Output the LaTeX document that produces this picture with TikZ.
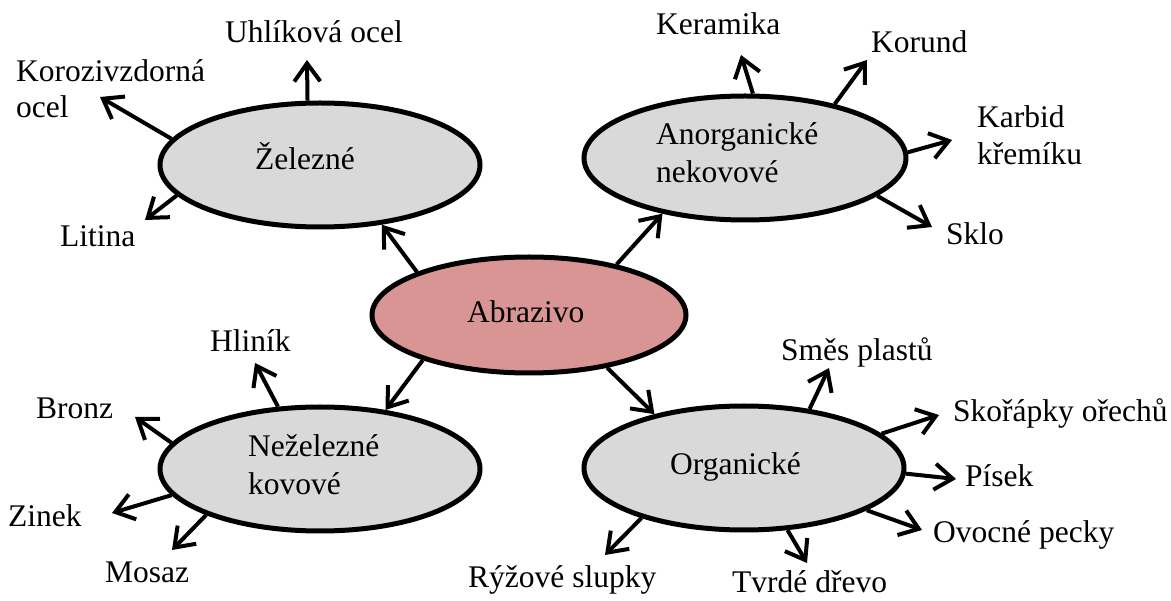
\documentclass[tikz,border=0pt]{standalone}
\usepackage{fontspec}
\setmainfont{Liberation Serif}
\usetikzlibrary{shapes.geometric,arrows.meta}
\definecolor{greyfill}{RGB}{217,217,217}
\definecolor{rosefill}{RGB}{217,149,148}
\begin{document}
\begin{tikzpicture}[x=1pt,y=-1pt,
  every node/.style={font=\fontsize{31.5}{38}\selectfont},
  oval/.style={ellipse,draw,line width=5pt,fill=greyfill,inner sep=0pt,minimum width=320pt,minimum height=124pt},
  lbl/.style={anchor=base west,inner sep=0pt,align=left},
  arr/.style={line width=4pt,-{Straight Barb[length=18pt,width=26pt,line width=4pt]}}
]
\useasboundingbox (0,0) rectangle (1171,601);
% ellipses
\node[oval] (zel) at (320,165) {};
\node[oval,minimum width=322pt] (ano) at (745,158) {};
\node[oval,fill=rosefill,minimum width=314pt,minimum height=116pt] (abr) at (529,315) {};
\node[oval] (nez) at (320,469) {};
\node[oval] (org) at (744,468) {};
% texts inside
\node[lbl] (tzel) at (255,170) {Železné};
\node[lbl] (tano) at (656,183) {Anorganické\\nekovové};
\node[lbl] (tabr) at (467,323) {Abrazivo};
\node[lbl] (tnez) at (248,495) {Neželezné\\kovové};
\node[lbl] (torg) at (670,475) {Organické};
% labels
\node[lbl] (uhl) at (225,43) {Uhlíková ocel};
\node[lbl] (kor) at (16,118) {Korozivzdorná\\[-2pt]ocel};
\node[lbl] (lit) at (60,247) {Litina};
\node[lbl] (ker) at (656,35) {Keramika};
\node[lbl] (krd) at (871,53) {Korund};
\node[lbl] (kar) at (977,165) {Karbid\\[-1pt]křemíku};
\node[lbl] (skl) at (946,245) {Sklo};
\node[lbl] (hli) at (210,352) {Hliník};
\node[lbl] (bro) at (36,419) {Bronz};
\node[lbl] (zin) at (8,527) {Zinek};
\node[lbl] (mos) at (105,583) {Mosaz};
\node[lbl] (sme) at (781,361) {Směs plastů};
\node[lbl] (sko) at (953,422) {Skořápky ořechů};
\node[lbl] (pis) at (965,487) {Písek};
\node[lbl] (ovo) at (933,543) {Ovocné pecky};
\node[lbl] (tvr) at (732,593) {Tvrdé dřevo};
\node[lbl] (ryz) at (468,587) {Rýžové slupky};
% arrow tip coordinates
\coordinate (cuhl) at (307,60);
\coordinate (ckor) at (100,97);
\coordinate (clit) at (145,220);
\coordinate (cker) at (741,55);
\coordinate (ckrd) at (867,60);
\coordinate (ckar) at (952,140);
\coordinate (cskl) at (932,227);
\coordinate (chli) at (255,363);
\coordinate (cbro) at (135,417);
\coordinate (czin) at (112,513);
\coordinate (cmos) at (172,550);
\coordinate (csme) at (829,368);
\coordinate (csko) at (939,415);
\coordinate (cpis) at (956,479);
\coordinate (covo) at (922,530);
\coordinate (ctvr) at (807,563);
\coordinate (cryz) at (605,555);
% connectors from Abrazivo
\draw[arr] (abr.159) -- (zel.316);
\draw[arr] (abr.30) -- (ano.214);
\draw[arr] (abr.203) -- (nez.42);
\draw[arr] (abr.326) -- (org.149);
% Železné
\draw[arr] (zel.101.5) -- (cuhl);
\draw[arr] (zel.170.5) -- (ckor);
\draw[arr] (zel.192.6) -- (clit);
% Anorganické
\draw[arr] (ano.83.7) -- (cker);
\draw[arr] (ano.31.7) -- (ckrd);
\draw[arr] (ano.2.1) -- (ckar);
\draw[arr] (ano.344.6) -- (cskl);
% Neželezné
\draw[arr] (nez.124.7) -- (chli);
\draw[arr] (nez.170.2) -- (cbro);
\draw[arr] (nez.190.8) -- (czin);
\draw[arr] (nez.202.7) -- (cmos);
% Organické
\draw[arr] (org.42.7) -- (csme);
\draw[arr] (org.14) -- (csko);
\draw[arr] (org.358.2) -- (cpis);
\draw[arr] (org.341.6) -- (covo);
\draw[arr] (org.305.7) -- (ctvr);
\draw[arr] (org.206.8) -- (cryz);
\end{tikzpicture}
\end{document}
